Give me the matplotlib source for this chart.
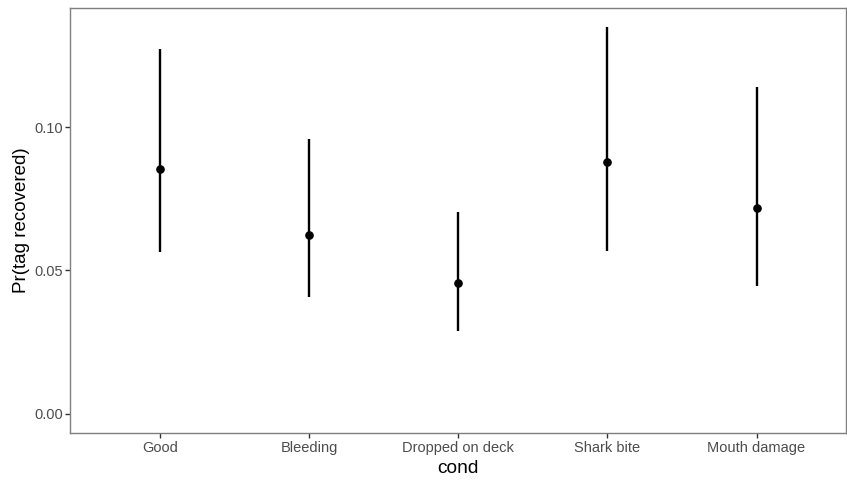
import matplotlib
import numpy as np

matplotlib.use("Agg")
import matplotlib.pyplot as plt

# Estimated recovery probability by fish condition, with interval bounds
conditions = ["Good", "Bleeding", "Dropped on deck", "Shark bite", "Mouth damage"]
prob = [0.0853, 0.0624, 0.0455, 0.0879, 0.0717]
lower = [0.0564, 0.0408, 0.0289, 0.0566, 0.0447]
upper = [0.1274, 0.0957, 0.0704, 0.1350, 0.1141]

plt.rcParams["font.family"] = ["Liberation Sans", "DejaVu Sans"]

fig = plt.figure(figsize=(8.47, 4.82), dpi=100)
ax = fig.add_axes([0.0832, 0.1017, 0.9156, 0.8827])

x = np.arange(1, len(conditions) + 1)
prob = np.asarray(prob)
ax.vlines(x, lower, upper, color="black", linewidth=1.7)
ax.plot(x, prob, "o", color="black", markersize=5.2, linestyle="none")

ax.set_xlim(0.4, len(conditions) + 0.6)
ax.set_ylim(-0.00675, 0.14175)
ax.set_xticks(x)
ax.set_xticklabels(conditions)
ax.set_yticks([0.0, 0.05, 0.10])
ax.set_yticklabels(["0.00", "0.05", "0.10"])

for side in ax.spines.values():
    side.set_color("#7f7f7f")
    side.set_linewidth(1.0)
ax.tick_params(axis="both", colors="#333333", length=3.5, width=1.0,
               labelsize=10.5, labelcolor="#4d4d4d", pad=2.0)

ax.set_xlabel("cond", fontsize=13.8, labelpad=4)
ax.set_ylabel("Pr(tag recovered)", fontsize=13.5, labelpad=3)

fig.savefig("out.png", dpi=100)
plt.close(fig)
